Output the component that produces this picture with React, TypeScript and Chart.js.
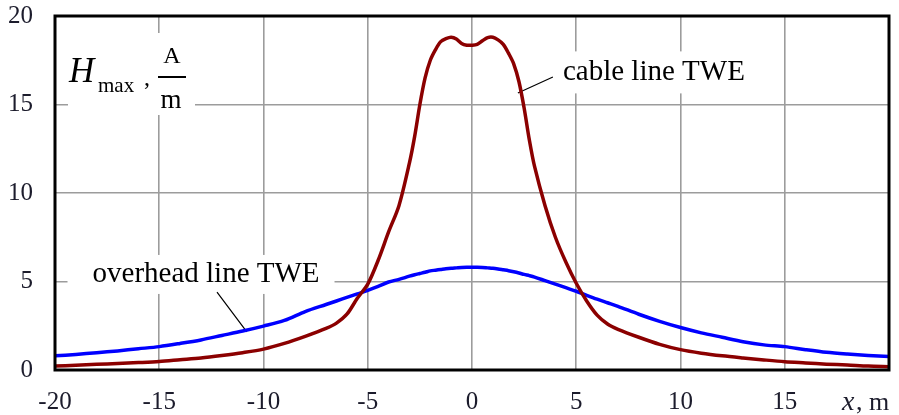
import React, { useEffect, useRef } from "react";
import { Chart, registerables } from "chart.js";

Chart.register(...registerables);

const xPositions = [
  -20, -19, -18, -17, -16, -15, -14, -13, -12, -11, -10, -9, -8, -7, -6.5, -6, -5.5, -5, -4.5, -4, -3.5, -3,
  -2.75, -2.5, -2.25, -2, -1.75, -1.5, -1.25, -1, -0.75, -0.5, -0.25, 0, 0.25, 0.5, 0.75, 1, 1.25, 1.5, 1.75,
  2, 2.25, 2.5, 2.75, 3, 3.5, 4, 4.5, 5, 5.5, 6, 6.5, 7, 8, 9, 10, 11, 12, 13, 14, 15, 16, 17, 18, 19, 20,
];

const cableLine = [
  0.22, 0.27, 0.32, 0.37, 0.42, 0.48, 0.58, 0.68, 0.82, 0.98, 1.18, 1.5, 1.9, 2.35, 2.65, 3.15, 4.05, 4.85, 6.2, 7.8, 9.3, 11.7,
  13.2, 15.0, 16.5, 17.5, 18.1, 18.55, 18.72, 18.8, 18.7, 18.45, 18.35, 18.35, 18.4, 18.6, 18.78, 18.8, 18.65, 18.4, 17.9,
  17.3, 16.3, 14.8, 13.0, 11.5, 9.3, 7.5, 6.1, 4.9, 3.9, 3.1, 2.6, 2.3, 1.85, 1.45, 1.15, 0.95, 0.8, 0.68, 0.57, 0.47, 0.4, 0.33, 0.28, 0.22, 0.19,
];

const overheadLine = [
  0.8, 0.88, 0.98, 1.08, 1.2, 1.32, 1.5, 1.7, 1.95, 2.2, 2.48, 2.8, 3.3, 3.7, 3.9, 4.1, 4.3, 4.5, 4.72, 4.97, 5.12, 5.3,
  5.38, 5.45, 5.52, 5.6, 5.64, 5.68, 5.72, 5.75, 5.77, 5.79, 5.8, 5.8, 5.8, 5.79, 5.77, 5.75, 5.71, 5.66, 5.61,
  5.55, 5.48, 5.4, 5.33, 5.25, 5.05, 4.85, 4.65, 4.45, 4.22, 4.0, 3.8, 3.6, 3.15, 2.75, 2.4, 2.1, 1.85, 1.6, 1.42, 1.32, 1.15, 1.0, 0.9, 0.82, 0.76,
];

const xTicks = [-20, -15, -10, -5, 0, 5, 10, 15];
const yTicks = [0, 5, 10, 15, 20];

const cableLabel = "cable line TWE";
const overheadLabel = "overhead line TWE";

const SERIF = '"Liberation Serif", "Times New Roman", serif';

const annotationPlugin = {
  id: "annotations",
  beforeDatasetsDraw(chart: any) {
    const { ctx, chartArea, scales } = chart;
    const xs = scales.x;
    const ys = scales.y;
    const px = (v: number) => xs.getPixelForValue(v);
    const py = (v: number) => ys.getPixelForValue(v);
    ctx.save();
    // white boxes behind labels
    ctx.fillStyle = "#ffffff";
    ctx.fillRect(chartArea.left + 13, chartArea.top + 17, 127, 82);
    ctx.fillRect(px(4.0), py(18.0), 205, 42);
    ctx.fillRect(px(-19.4), py(6.5), 267, 39);

    ctx.fillStyle = "#000000";
    ctx.textBaseline = "alphabetic";
    ctx.font = `29px ${SERIF}`;
    ctx.textAlign = "left";
    ctx.fillText(cableLabel, px(4.36), py(16.4));
    ctx.fillText(overheadLabel, px(-18.2), py(4.97));

    // leader lines
    ctx.strokeStyle = "#000000";
    ctx.lineWidth = 1.2;
    ctx.beginPath();
    ctx.moveTo(px(3.88), py(16.55));
    ctx.lineTo(px(2.2), py(15.65));
    ctx.moveTo(px(-12.23), py(4.4));
    ctx.lineTo(px(-10.8), py(2.15));
    ctx.stroke();

    // y axis label  H_max , A/m
    const l = chartArea.left;
    const t = chartArea.top;
    ctx.font = `italic 35px ${SERIF}`;
    ctx.fillText("H", l + 14, t + 66);
    ctx.font = `21px ${SERIF}`;
    ctx.fillText("max", l + 43, t + 76);
    ctx.font = `24px ${SERIF}`;
    ctx.fillText(",", l + 89, t + 69);
    ctx.textAlign = "center";
    ctx.fillText("A", l + 117, t + 47);
    ctx.font = `27px ${SERIF}`;
    ctx.fillText("m", l + 116, t + 92);
    ctx.fillRect(l + 103, t + 60, 28, 2);
    ctx.restore();
  },
  afterDraw(chart: any) {
    const { ctx, chartArea } = chart;
    ctx.save();
    ctx.strokeStyle = "#000000";
    ctx.lineWidth = 3;
    ctx.strokeRect(chartArea.left, chartArea.top, chartArea.right - chartArea.left, chartArea.bottom - chartArea.top);
    ctx.fillStyle = "#1c1c2c";
    ctx.textBaseline = "alphabetic";
    ctx.textAlign = "left";
    ctx.font = `italic 28px ${SERIF}`;
    ctx.fillText("x", chartArea.right - 47, chartArea.bottom + 40);
    ctx.font = `26px ${SERIF}`;
    ctx.fillText(", m", chartArea.right - 33, chartArea.bottom + 40);
    ctx.restore();
  },
};

export default function App() {
  const canvasRef = useRef<HTMLCanvasElement | null>(null);

  useEffect(() => {
    document.body.style.margin = "0";
    const canvas = canvasRef.current;
    if (!canvas) return;
    const chart = new Chart(canvas, {
      type: "line",
      data: {
        datasets: [
          {
            label: cableLabel,
            data: xPositions.map((x, i) => ({ x, y: cableLine[i] })),
            borderColor: "#8b0000",
            borderWidth: 3.5,
            pointRadius: 0,
            tension: 0.3,
            fill: false,
          },
          {
            label: overheadLabel,
            data: xPositions.map((x, i) => ({ x, y: overheadLine[i] })),
            borderColor: "#0000ff",
            borderWidth: 3.5,
            pointRadius: 0,
            tension: 0.3,
            fill: false,
          },
        ],
      },
      options: {
        animation: false,
        responsive: false,
        maintainAspectRatio: false,
        layout: { padding: { top: 16, right: 10, left: 0, bottom: 0 } },
        plugins: { legend: { display: false }, tooltip: { enabled: false } },
        scales: {
          x: {
            type: "linear",
            min: -20,
            max: 20,
            afterBuildTicks: (scale: any) => {
              scale.ticks = [...xTicks, 20].map((v) => ({ value: v }));
            },
            afterFit: (scale: any) => {
              scale.height = 45;
              scale.paddingLeft = 0;
              scale.paddingRight = 0;
            },
            ticks: {
              autoSkip: false,
              maxRotation: 0,
              padding: 17,
              color: "#1c1c2c",
              font: { family: SERIF, size: 25 },
              callback: (v: any) => (xTicks.includes(Number(v)) ? String(v) : ""),
            },
            grid: { color: "#9c9c9c", lineWidth: 1.6, drawTicks: false },
            border: { display: false },
          },
          y: {
            type: "linear",
            min: 0,
            max: 20,
            afterBuildTicks: (scale: any) => {
              scale.ticks = yTicks.map((v) => ({ value: v }));
            },
            afterFit: (scale: any) => {
              scale.width = 55;
              scale.paddingTop = 0;
              scale.paddingBottom = 0;
            },
            ticks: {
              autoSkip: false,
              padding: 22,
              color: "#1c1c2c",
              font: { family: SERIF, size: 25 },
            },
            grid: { color: "#9c9c9c", lineWidth: 1.6, drawTicks: false },
            border: { display: false },
          },
        },
      },
      plugins: [annotationPlugin],
    });
    return () => chart.destroy();
  }, []);

  return (
    <div style={{ position: "absolute", left: 0, top: 0, width: 899, height: 415, background: "#fff" }}>
      <canvas ref={canvasRef} width={899} height={415} style={{ width: 899, height: 415, display: "block" }} />
    </div>
  );
}
